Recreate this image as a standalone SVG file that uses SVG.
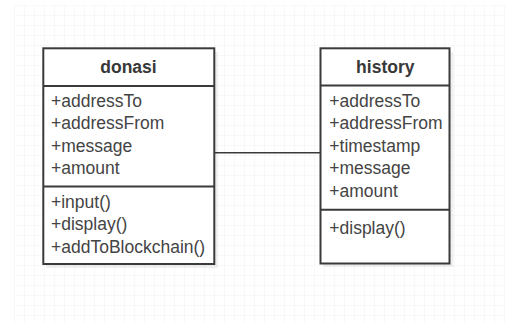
<svg xmlns="http://www.w3.org/2000/svg" width="505" height="323" viewBox="0 0 505 323">
  <style>
    .box { fill: #ffffff; stroke: #3a3a3a; stroke-width: 2; }
    .div { stroke: #3a3a3a; stroke-width: 2; }
    .shadow { fill: #000000; opacity: 0.06; }
    .title { font-family: "Liberation Sans", Arial, sans-serif; font-size: 17.5px; font-weight: bold; fill: #383838; text-anchor: middle; }
    .item { font-family: "Liberation Sans", Arial, sans-serif; font-size: 17.5px; fill: #444444; }
    .link { stroke: #3a3a3a; stroke-width: 1.6; fill: none; }
  </style>
  <defs>
    <pattern id="grid" x="14" y="5" width="10" height="10" patternUnits="userSpaceOnUse">
      <path d="M10 0 L0 0 0 10" fill="none" stroke="#f1f1f1" stroke-width="1"/>
    </pattern>
  </defs>

  <!-- canvas -->
  <rect x="0" y="0" width="505" height="323" fill="#ffffff"/>
  <rect x="14" y="5" width="491" height="318" fill="url(#grid)"/>

  <!-- association -->
  <g id="connectors">
    <line class="link" x1="214" y1="152.7" x2="321" y2="152.7"/>
  </g>

  <!-- class: donasi -->
  <g id="donasi">
    <rect class="shadow" x="46" y="52" width="172" height="216"/>
    <rect class="box" x="43.3" y="48.3" width="171" height="215.7"/>
    <line class="div" x1="43.3" y1="86" x2="214.3" y2="86"/>
    <line class="div" x1="43.3" y1="186.5" x2="214.3" y2="186.5"/>
    <text class="title" x="128.5" y="73">donasi</text>
    <text class="item" x="51" y="106.5">+addressTo</text>
    <text class="item" x="51" y="129">+addressFrom</text>
    <text class="item" x="51" y="151.5">+message</text>
    <text class="item" x="51" y="173.5">+amount</text>
    <text class="item" x="51" y="207.5">+input()</text>
    <text class="item" x="51" y="230">+display()</text>
    <text class="item" x="51" y="252.5">+addToBlockchain()</text>
  </g>

  <!-- class: history -->
  <g id="history">
    <rect class="shadow" x="323.5" y="52" width="130" height="215"/>
    <rect class="box" x="320.5" y="48.3" width="129" height="215.2"/>
    <line class="div" x1="320.5" y1="85.5" x2="449.5" y2="85.5"/>
    <line class="div" x1="320.5" y1="209.8" x2="449.5" y2="209.8"/>
    <text class="title" x="385.3" y="73">history</text>
    <text class="item" x="329.3" y="106.5">+addressTo</text>
    <text class="item" x="329.3" y="129">+addressFrom</text>
    <text class="item" x="329.3" y="151.5">+timestamp</text>
    <text class="item" x="329.3" y="174">+message</text>
    <text class="item" x="329.3" y="196.5">+amount</text>
    <text class="item" x="329.3" y="234">+display()</text>
  </g>
</svg>
